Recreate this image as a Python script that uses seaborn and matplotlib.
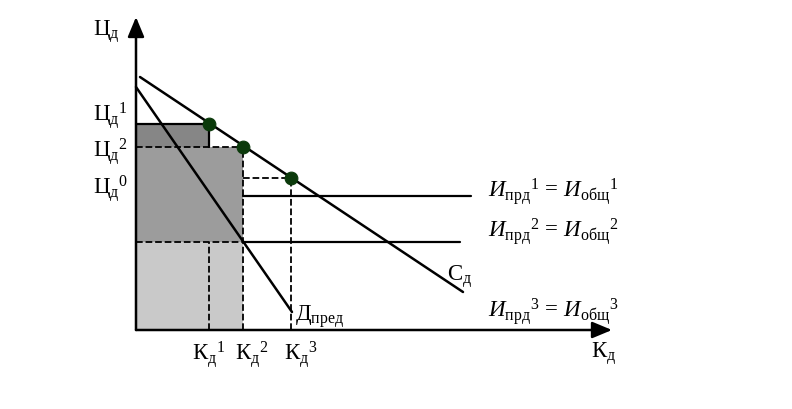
import matplotlib
matplotlib.use("Agg")
import matplotlib.pyplot as plt
import seaborn as sns

# Quantities on the horizontal axis (Кд)
k_levels = [73, 107, 155]          # Кд1, Кд2, Кд3
k_labels = ["1", "2", "3"]
# Prices on the supply line (Цд1, Цд2, Цд0)
p_levels = [206, 183, 152]
p_labels = ["1", "2", "0"]
# Horizontal cost levels (Ипрд1 = Иобщ1, Ипрд2 = Иобщ2)
cost_levels = [134, 88]
cost_ends = [335, 324]
cost_labels = ["1", "2", "3"]

# Supply line Сд and demand line Дпред
supply_x = [4, 327]
supply_y = [253, 38]
demand_x = [0, 156]
demand_y = [243, 18]

axis_x_max = 476
axis_y_max = 313

sns.set_theme(style="white")
plt.rcParams["font.family"] = ["Liberation Serif", "DejaVu Serif"]
plt.rcParams["mathtext.fontset"] = "custom"
plt.rcParams["mathtext.rm"] = "Liberation Serif"
plt.rcParams["mathtext.it"] = "Liberation Serif:italic"
plt.rcParams["mathtext.bf"] = "Liberation Serif:bold"

fig = plt.figure(figsize=(7.92, 4.10), dpi=100)
ax = fig.add_axes([0, 0, 1, 1])
ax.set_xlim(-136, 656)
ax.set_ylim(-79, 331)
ax.axis("off")

k1, k2, k3 = k_levels
p1, p2, p0 = p_levels
c1, c2 = cost_levels

# shaded areas
ax.fill_between([0, k2], 0, c2, color="#c9c9c9", lw=0, zorder=1)
ax.fill_between([0, k2], c2, p2, color="#9c9c9c", lw=0, zorder=1)
ax.fill_between([0, k1], p2, p1, color="#868686", lw=0, zorder=1)

dash = dict(ax=ax, color="black", linewidth=1.3, linestyle="--", sort=False, estimator=None)
solid = dict(ax=ax, color="black", linewidth=1.6, sort=False, estimator=None)

# dashed guides
sns.lineplot(x=[0, k2], y=[p2, p2], **dash)
sns.lineplot(x=[k2, k2], y=[0, p2], **dash)
sns.lineplot(x=[k1, k1], y=[0, c2], **dash)
sns.lineplot(x=[0, k2], y=[c2, c2], **dash)
sns.lineplot(x=[k2, k3], y=[p0, p0], **dash)
sns.lineplot(x=[k3, k3], y=[0, p0], **dash)

# dark rectangle outline
sns.lineplot(x=[0, k1, k1], y=[p1, p1, p2], **solid)

# cost levels
sns.lineplot(x=[k2, cost_ends[0]], y=[c1, c1], **solid)
sns.lineplot(x=[k2, cost_ends[1]], y=[c2, c2], **solid)

# supply and demand
sns.lineplot(x=supply_x, y=supply_y, ax=ax, color="black", linewidth=1.8, sort=False, estimator=None)
sns.lineplot(x=demand_x, y=demand_y, ax=ax, color="black", linewidth=1.8, sort=False, estimator=None)

# points on the supply line
sns.scatterplot(x=k_levels, y=[p1, p2, p0], ax=ax, color="#0b3a0b", s=85,
                edgecolor="#0b3a0b", zorder=5)

# axes with arrows
arrow = dict(arrowstyle="-|>,head_length=0.6,head_width=0.25", color="black",
             lw=1.8, mutation_scale=20, shrinkA=0, shrinkB=0)
ax.annotate("", xy=(axis_x_max, 0), xytext=(0, 0), arrowprops=arrow, zorder=6)
ax.annotate("", xy=(0, axis_y_max), xytext=(0, 0), arrowprops=arrow, zorder=6)

fs = 16.5
txt = dict(ha="left", va="baseline", fontsize=fs, color="black")

ax.text(-43, 295, r"$\mathrm{Ц}_{\mathrm{д}}$", **txt)
for ty, sup in zip([210, 174, 137], p_labels):
    ax.text(-43, ty, r"$\mathrm{Ц}_{\mathrm{д}}{}^{" + sup + "}$", **txt)
for tx, sup in zip([56, 99, 148], k_labels):
    ax.text(tx, -29, r"$\mathrm{К}_{\mathrm{д}}{}^{" + sup + "}$", **txt)
ax.text(455, -27, r"$\mathrm{К}_{\mathrm{д}}$", **txt)
ax.text(311, 50, r"$\mathrm{С}_{\mathrm{д}}$", **txt)
ax.text(159, 10, r"$\mathrm{Д}_{\mathrm{пред}}$", **txt)

for ty, n in zip([134, 94, 14], cost_labels):
    ax.text(352, ty, r"$И_{\mathrm{прд}}{}^{" + n + r"}\,=\,И_{\mathrm{общ}}{}^{" + n + "}$", **txt)

fig.savefig("out.png", dpi=100)
plt.close("all")
